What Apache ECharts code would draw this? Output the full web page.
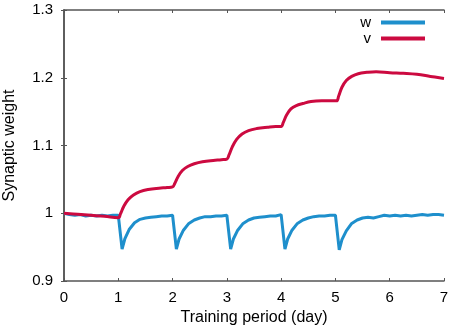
<!DOCTYPE html>
<html>
<head>
<meta charset="utf-8">
<script src="https://cdn.jsdelivr.net/npm/echarts@6/dist/echarts.min.js"></script>
<style>
  html, body { margin: 0; padding: 0; background: #fff; }
  #chart { width: 454px; height: 328px; }
</style>
</head>
<body>
<div id="chart"></div>
<script>
// w (blue)
var wDays = [0, 0.1, 0.2, 0.3, 0.4, 0.5, 0.6, 0.7, 0.8, 0.9, 1.0,
  1.07, 1.12, 1.2, 1.3, 1.4, 1.5, 1.6, 1.7, 1.8, 1.9, 2.0,
  2.07, 2.12, 2.2, 2.3, 2.4, 2.5, 2.6, 2.7, 2.8, 2.9, 3.0,
  3.07, 3.12, 3.2, 3.3, 3.4, 3.5, 3.6, 3.7, 3.8, 3.9, 4.0,
  4.07, 4.12, 4.2, 4.3, 4.4, 4.5, 4.6, 4.7, 4.8, 4.9, 5.0,
  5.07, 5.12, 5.2, 5.3, 5.4, 5.5, 5.6, 5.7, 5.8, 5.9, 6.0,
  6.1, 6.2, 6.3, 6.4, 6.5, 6.6, 6.7, 6.8, 6.9, 7.0];
var wVals = [1.000, 0.998, 0.997, 0.998, 0.996, 0.997, 0.996, 0.997, 0.996, 0.997, 0.997,
  0.947, 0.962, 0.976, 0.986, 0.991, 0.993, 0.994, 0.995, 0.996, 0.996, 0.997,
  0.947, 0.962, 0.975, 0.985, 0.990, 0.993, 0.995, 0.995, 0.996, 0.996, 0.997,
  0.947, 0.962, 0.975, 0.985, 0.990, 0.993, 0.994, 0.995, 0.996, 0.996, 0.998,
  0.947, 0.962, 0.975, 0.985, 0.990, 0.993, 0.995, 0.996, 0.996, 0.997, 0.997,
  0.946, 0.961, 0.974, 0.985, 0.990, 0.993, 0.994, 0.993, 0.995, 0.997, 0.996,
  0.997, 0.996, 0.997, 0.996, 0.997, 0.998, 0.997, 0.998, 0.998, 0.997];

// v (red)
var vDays = [0, 0.25, 0.5, 0.75, 1.0, 1.04, 1.1, 1.18, 1.28, 1.4, 1.55, 1.75, 1.9, 2.0,
  2.04, 2.1, 2.18, 2.28, 2.4, 2.55, 2.75, 2.9, 3.0,
  3.04, 3.1, 3.18, 3.28, 3.4, 3.55, 3.75, 3.9, 4.0,
  4.04, 4.1, 4.18, 4.28, 4.4, 4.55, 4.75, 4.9, 5.02,
  5.06, 5.12, 5.2, 5.3, 5.42, 5.58, 5.75, 6.0, 6.25, 6.5, 6.75, 7.0];
var vVals = [1.000, 0.9985, 0.997, 0.9955, 0.9935, 0.999, 1.010, 1.020, 1.027, 1.032, 1.035, 1.037, 1.038, 1.039,
  1.044, 1.054, 1.063, 1.069, 1.073, 1.076, 1.078, 1.079, 1.080,
  1.086, 1.098, 1.109, 1.117, 1.122, 1.125, 1.127, 1.128, 1.128,
  1.134, 1.145, 1.154, 1.159, 1.162, 1.165, 1.166, 1.166, 1.166,
  1.173, 1.186, 1.196, 1.202, 1.206, 1.208, 1.209, 1.2075, 1.2065, 1.205, 1.202, 1.199];

var seriesNames = ['w', 'v'];
var xTicks = [0, 1, 2, 3, 4, 5, 6, 7];
var yTicks = [0.9, 1, 1.1, 1.2, 1.3];

function pairs(xs, ys) {
  return xs.map(function (x, i) { return [x, ys[i]]; });
}

var chart = echarts.init(document.getElementById('chart'));
var font = 'Liberation Sans, Arial, sans-serif';
var axisCol = '#555555';
var tickStyle = { show: true, inside: true, length: 3, lineStyle: { color: axisCol, width: 1 } };

var option = {
  animation: false,
  textStyle: { fontFamily: font },
  grid: { left: 64, right: 10, top: 10, bottom: 47, outerBoundsMode: 'none' },
  legend: {
    data: seriesNames,
    orient: 'vertical',
    right: 24,
    top: 10,
    align: 'right',
    itemWidth: 44,
    itemHeight: 4,
    itemGap: 1,
    icon: 'rect',
    textStyle: { fontSize: 15, color: '#000', fontFamily: font, padding: [0, 5, 0, 0] }
  },
  xAxis: [{
    type: 'value',
    min: xTicks[0],
    max: xTicks[xTicks.length - 1],
    interval: 1,
    name: 'Training period (day)',
    nameLocation: 'middle',
    nameGap: 26,
    nameTextStyle: { fontSize: 16, color: '#000' },
    axisLine: { show: true, lineStyle: { color: axisCol, width: 1.5 } },
    axisTick: tickStyle,
    axisLabel: { fontSize: 15, color: '#000', margin: 9 },
    splitLine: { show: false }
  }, {
    type: 'value',
    position: 'top',
    min: xTicks[0],
    max: xTicks[xTicks.length - 1],
    interval: 1,
    axisLine: { show: true, lineStyle: { color: axisCol, width: 1.5 } },
    axisTick: tickStyle,
    axisLabel: { show: false },
    splitLine: { show: false }
  }],
  yAxis: [{
    type: 'value',
    min: yTicks[0],
    max: yTicks[yTicks.length - 1],
    interval: 0.1,
    name: 'Synaptic weight',
    nameLocation: 'middle',
    nameGap: 46,
    nameTextStyle: { fontSize: 16, color: '#000' },
    axisLine: { show: true, lineStyle: { color: axisCol, width: 1.5 } },
    axisTick: tickStyle,
    axisLabel: { fontSize: 15, color: '#000', margin: 11 },
    splitLine: { show: false }
  }, {
    type: 'value',
    position: 'right',
    min: yTicks[0],
    max: yTicks[yTicks.length - 1],
    interval: 0.1,
    axisLine: { show: true, lineStyle: { color: axisCol, width: 1.5 } },
    axisTick: tickStyle,
    axisLabel: { show: false },
    splitLine: { show: false }
  }],
  series: [{
    name: seriesNames[0],
    type: 'line',
    data: pairs(wDays, wVals),
    showSymbol: false,
    symbol: 'none',
    color: '#1e8fcc',
    lineStyle: { width: 3, color: '#1e8fcc' }
  }, {
    name: seriesNames[1],
    type: 'line',
    data: pairs(vDays, vVals),
    showSymbol: false,
    symbol: 'none',
    smooth: 0.4,
    color: '#cc0a40',
    lineStyle: { width: 3, color: '#cc0a40' }
  }]
};
chart.setOption(option);
</script>
</body>
</html>
